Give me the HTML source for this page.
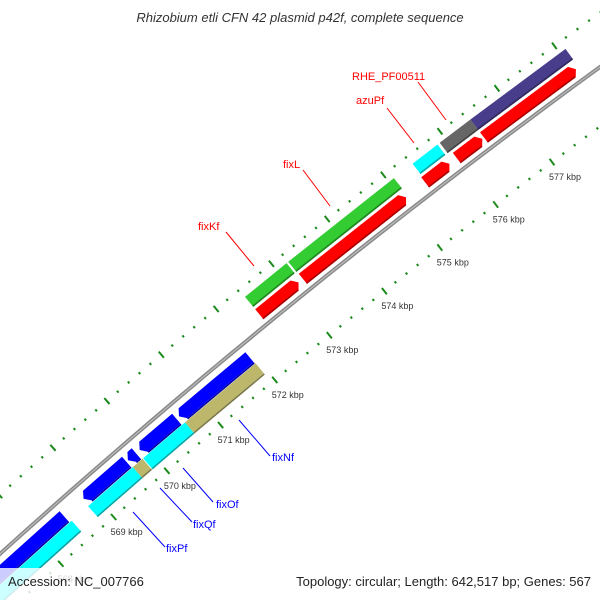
<!DOCTYPE html>
<html><head><meta charset="utf-8"><style>
html,body{margin:0;padding:0;background:#fff;width:600px;height:600px;overflow:hidden;}
svg{display:block;overflow:hidden;font-family:"Liberation Sans","DejaVu Sans",sans-serif;}
</style></head><body>
<svg id="map" width="600" height="600" viewBox="0 0 600 600" xmlns="http://www.w3.org/2000/svg">
<rect x="0" y="0" width="600" height="600" fill="#fff"/>
<g id="ticks"></g>
<g id="genes"></g>
<g id="labels"></g>
<text x="300" y="22" text-anchor="middle" font-size="13" font-style="italic" fill="#333">Rhizobium etli CFN 42 plasmid p42f, complete sequence</text>
<rect x="0" y="568" width="148" height="32" fill="#fff" opacity="0.8"/>
<text x="8" y="586" font-size="13" fill="#222">Accession: NC_007766</text>
<text x="591" y="586" font-size="13" fill="#222" text-anchor="end">Topology: circular; Length: 642,517 bp; Genes: 567</text>
</svg>
<script>
// data
const geneStart  = [572.42,573.21,575.40,575.96,576.44, 572.42,573.20,575.42,575.90,576.44, 567.0,568.85,569.68,569.90,570.63, 567.0,568.83,569.67,569.86,570.64];
const geneEnd    = [573.13,575.06,575.83,576.41,578.05, 573.17,575.09,575.86,576.44,578.10, 568.48,569.65,569.83,570.58,571.93, 568.52,569.67,569.85,570.64,571.94];
const geneTrack  = [1,1,1,1,1, 2,2,2,2,2, -1,-1,-1,-1,-1, -2,-2,-2,-2,-2];
const geneArrow  = [1,1,1,1,1, 0,0,0,0,0, -1,-1,-1,-1,-1, 0,0,0,0,0];
const geneColor  = ["#ff0000","#ff0000","#ff0000","#ff0000","#ff0000","#33cc33","#33cc33","#00ffff","#666666","#483d8b","#0000ff","#0000ff","#0000ff","#0000ff","#0000ff","#00ffff","#00ffff","#bdb76b","#00ffff","#bdb76b"];
const tickLabels = [568,569,570,571,572,573,574,575,576,577];
const labelNames = ["RHE_PF00511","azuPf","fixL","fixKf","fixNf","fixOf","fixQf","fixPf"];
const labelColor = ["#ff0000","#ff0000","#ff0000","#ff0000","#0000ff","#0000ff","#0000ff","#0000ff"];

// geometry
const R=7260, CX=4868, CY=5940, PHI0=-129*Math.PI/180, DPHI=71/7260;
function P(k,r){const a=PHI0+(k-573)*DPHI;return [CX+r*Math.cos(a),CY+r*Math.sin(a)];}
const NS="http://www.w3.org/2000/svg";
function mk(tag,attrs,parent){const e=document.createElementNS(NS,tag);for(const k in attrs)e.setAttribute(k,attrs[k]);parent.appendChild(e);return e;}
const gT=document.getElementById('ticks'),gG=document.getElementById('genes'),gL=document.getElementById('labels');

// backbone
let pts=[];for(let k=565;k<=580;k+=0.25){pts.push(P(k,R).map(v=>v.toFixed(1)).join(','));}
let bb=mk('polyline',{points:pts.join(' '),fill:'none',stroke:'#888',"stroke-width":4},gT);


let bb2=mk('polyline',{points:pts.join(' '),fill:'none',stroke:'#bbb',"stroke-width":1.2},gT);



// ticks
[R+44,R-48].forEach(function(rr){
  for(let i=5650;i<=5800;i+=2){const k=i/10;const major=(i%10===0);
    const h=major?4:1.2;const a=P(k,rr-h),b=P(k,rr+h);
    const t=mk('line',{x1:a[0],y1:a[1],x2:b[0],y2:b[1],stroke:'#1a8a1a',"stroke-width":2},gT);
    
    
  }
});
tickLabels.forEach(function(k){const p=P(k,R-48);
  const t=mk('text',{x:(p[0]-3).toFixed(1),y:(p[1]+18).toFixed(1),"font-size":9,fill:'#333'},gT);
  t.textContent=k+' kbp';
  
  
});

// genes
const bands={1:[R+6,R+19],2:[R+22,R+35],"-1":[R-8,R-21],"-2":[R-23,R-36]};
function shade(c,f){const n=parseInt(c.slice(1),16);let r=n>>16,g=(n>>8)&255,b=n&255;r=Math.round(r*f);g=Math.round(g*f);b=Math.round(b*f);return 'rgb('+r+','+g+','+b+')';}
for(let i=0;i<geneStart.length;i++){
  const band=bands[geneTrack[i]];const r1=band[0],r2=band[1],rm=(r1+r2)/2;
  const k1=geneStart[i],k2=geneEnd[i];const hk=5/71;let poly=[];
  if(geneArrow[i]===1){poly=[P(k1,r1),P(k2-hk,r1),P(k2,rm),P(k2-hk,r2),P(k1,r2)];}
  else if(geneArrow[i]===-1){poly=[P(k1+hk,r1),P(k2,r1),P(k2,r2),P(k1+hk,r2),P(k1,rm)];}
  else{poly=[P(k1,r1),P(k2,r1),P(k2,r2),P(k1,r2)];}
  const g=mk('polygon',{points:poly.map(p=>p[0].toFixed(1)+','+p[1].toFixed(1)).join(' '),fill:geneColor[i]},gG);
  
  
  const off=geneTrack[i]>0?0.8:-0.8;const ri=(geneTrack[i]>0?r1:r2)+off;
  const e1=P(k1+(geneArrow[i]===-1?hk:0),ri),e2=P(k2-(geneArrow[i]===1?hk:0),ri);
  const s=mk('line',{x1:e1[0],y1:e1[1],x2:e2[0],y2:e2[1],stroke:shade(geneColor[i],0.65),"stroke-width":1.6},gG);
  
  
}

// labels
const labelPos=[[352,80,418,82,446,120],[356,104,387,108,414,143],[283,168,303,170,330,206],[198,230,226,232,254,266],[272,461,239,420,270,456],[216,508,183,468,213,502],[193,528,160,488,192,522],[166,552,133,512,165,547]];
for(let i=0;i<labelNames.length;i++){const q=labelPos[i];
  const l=mk('line',{x1:q[2],y1:q[3],x2:q[4],y2:q[5],stroke:labelColor[i],"stroke-width":1},gL);
  
  
  const t=mk('text',{x:q[0],y:q[1],"font-size":11,fill:labelColor[i]},gL);
  t.textContent=labelNames[i];
  
  
}
</script>
</body></html>
